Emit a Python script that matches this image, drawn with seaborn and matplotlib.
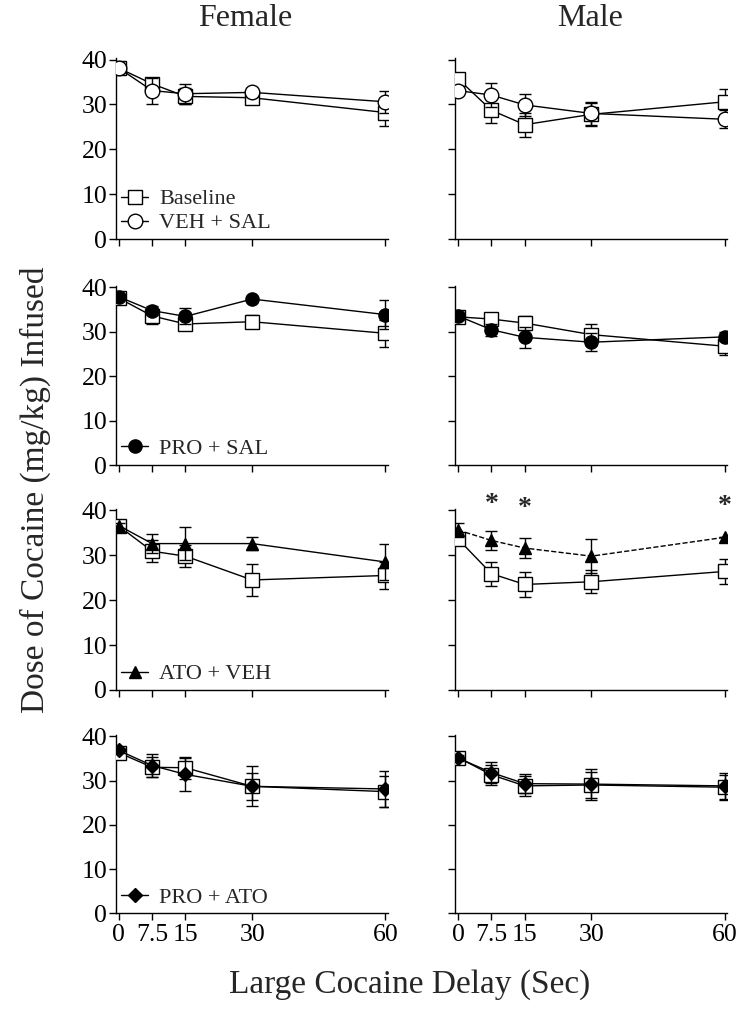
import matplotlib
matplotlib.use('Agg')
import matplotlib.pyplot as plt
import seaborn as sns
from matplotlib.lines import Line2D

sns.set_theme(style='ticks')
plt.rcParams['font.family'] = ['Liberation Serif', 'DejaVu Serif']

delay = [0, 7.5, 15, 30, 60]
sex = ['Female', 'Male']

# Baseline per row (female / male) and its SEM
female_base = [[38.1, 34.6, 31.8, 31.5, 28.2],
               [37.5, 33.5, 31.7, 32.2, 29.6],
               [36.5, 30.9, 29.8, 24.5, 25.5],
               [36.3, 33.0, 32.9, 28.7, 27.5]]
female_base_se = [[0.8, 1.2, 1.8, 1.2, 3.0],
                  [0.8, 1.7, 1.2, 1.5, 3.0],
                  [0.8, 2.4, 2.5, 3.6, 3.0],
                  [0.8, 2.3, 2.5, 4.5, 3.5]]
male_base = [[35.7, 28.7, 25.5, 27.8, 30.6],
             [33.3, 32.8, 31.9, 29.3, 26.7],
             [33.6, 25.9, 23.5, 24.1, 26.4],
             [35.2, 31.3, 28.8, 29.0, 28.5]]
male_base_se = [[1.2, 2.9, 2.7, 2.6, 2.9],
                [1.0, 1.3, 1.6, 2.4, 2.0],
                [1.0, 2.7, 2.8, 2.6, 2.8],
                [0.8, 2.2, 2.3, 3.0, 2.8]]

# Treatment per row
treatments = ['VEH + SAL', 'PRO + SAL', 'ATO + VEH', 'PRO + ATO']
female_trt = [[38.1, 33.1, 32.4, 32.7, 30.6],
              [37.8, 34.7, 33.4, 37.3, 33.8],
              [36.6, 32.6, 32.6, 32.6, 28.5],
              [36.8, 33.4, 31.4, 28.7, 28.1]]
female_trt_se = [[0.8, 2.9, 2.2, 1.0, 2.5],
                 [0.6, 1.0, 1.8, 0.5, 3.2],
                 [0.6, 2.2, 3.6, 1.4, 4.0],
                 [0.6, 2.5, 3.8, 3.0, 4.0]]
male_trt = [[33.1, 32.1, 29.9, 28.0, 26.7],
            [33.5, 30.4, 28.7, 27.6, 28.8],
            [35.6, 33.3, 31.6, 29.8, 34.0],
            [35.1, 31.8, 29.3, 29.2, 28.8]]
male_trt_se = [[1.0, 2.6, 2.4, 2.6, 2.0],
               [0.8, 1.3, 2.3, 2.0, 1.0],
               [1.5, 2.1, 2.3, 3.8, 0.0],
               [0.6, 2.4, 2.2, 3.5, 3.0]]

# significance stars (row 3, male)
star_delay = [7.5, 15, 60]
star_y = [41.4, 40.5, 40.9]

trt_marker = ['o', 'o', '^', 'D']
trt_face = ['white', 'black', 'black', 'black']
trt_size = [10.5, 9.5, 8, 7.5]

fig = plt.figure(figsize=(7.56, 10.18), dpi=100)
W, H = 756, 1018
col_left = [115.7, 455]
ax_w = 272
row_px = [(58.3, 239), (285.7, 465), (509, 690), (735, 913.3)]

for r in range(4):
    top, bot = row_px[r]
    for c in range(2):
        ax = fig.add_axes([col_left[c] / W, 1 - bot / H, ax_w / W, (bot - top) / H])
        base = female_base[r] if c == 0 else male_base[r]
        base_se = female_base_se[r] if c == 0 else male_base_se[r]
        trt = female_trt[r] if c == 0 else male_trt[r]
        trt_se = female_trt_se[r] if c == 0 else male_trt_se[r]
        dashed = (r == 2 and c == 1)

        ax.errorbar(delay, base, yerr=base_se, fmt='none', ecolor='black',
                    elinewidth=1, capsize=4, capthick=1, zorder=2)
        sns.lineplot(x=delay, y=base, ax=ax, color='black', lw=1, marker='s',
                     markersize=10, markerfacecolor='white', markeredgecolor='black',
                     markeredgewidth=1, zorder=3)
        ax.errorbar(delay, trt, yerr=trt_se, fmt='none', ecolor='black',
                    elinewidth=1, capsize=4, capthick=1, zorder=4)
        sns.lineplot(x=delay, y=trt, ax=ax, color='black', lw=1,
                     linestyle='--' if dashed else '-', marker=trt_marker[r],
                     markersize=trt_size[r], markerfacecolor=trt_face[r],
                     markeredgecolor='black', markeredgewidth=1, zorder=5)

        if dashed:
            for sx, sy in zip(star_delay, star_y):
                ax.text(sx, sy, '*', ha='center', va='center', fontsize=20,
                        fontweight='bold', clip_on=False)

        ax.set_xlim(-0.7, 60.5)
        ax.set_ylim(0, 40.3)
        ax.set_xticks(delay)
        ax.set_yticks([0, 10, 20, 30, 40])
        sns.despine(ax=ax)
        for s in ['left', 'bottom']:
            ax.spines[s].set_linewidth(1)
            ax.spines[s].set_color('black')
        ax.tick_params(direction='out', length=5, width=1, colors='black',
                       labelsize=18.5, pad=1)
        ax.tick_params(axis='x', pad=3)
        if r < 3:
            ax.set_xticklabels([])
        else:
            ax.set_xticklabels(['0', '7.5', '15', '30', '60'])
        if c == 1:
            ax.set_yticklabels([])
        ax.set_xlabel('')
        ax.set_ylabel('')

        if c == 0:
            handles = []
            labels = []
            if r == 0:
                handles.append(Line2D([], [], color='black', lw=1, marker='s',
                                      markersize=10, markerfacecolor='white'))
                labels.append('Baseline')
            handles.append(Line2D([], [], color='black', lw=1, marker=trt_marker[r],
                                  markersize=trt_size[r], markerfacecolor=trt_face[r]))
            labels.append(treatments[r])
            ax.legend(handles, labels, loc='lower left', frameon=False, fontsize=16,
                      handlelength=1.2, handletextpad=0.5, labelspacing=0.15,
                      borderaxespad=0.1, bbox_to_anchor=(-0.02, -0.03))

fig.text(245 / W, 1 - 18 / H, sex[0], ha='center', va='center', fontsize=23)
fig.text(590 / W, 1 - 18 / H, sex[1], ha='center', va='center', fontsize=23)
fig.text(35 / W, 1 - 490 / H, 'Dose of Cocaine (mg/kg) Infused', rotation=90,
         ha='center', va='center', fontsize=24)
fig.text(410 / W, 1 - 985 / H, 'Large Cocaine Delay (Sec)', ha='center',
         va='center', fontsize=24)

fig.savefig('out.png', dpi=100)
